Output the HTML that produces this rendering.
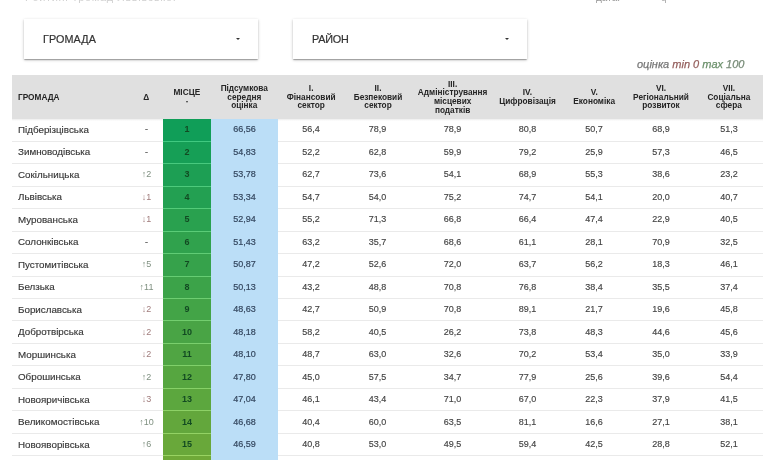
<!DOCTYPE html>
<html><head><meta charset="utf-8"><style>
*{margin:0;padding:0;box-sizing:border-box}
html,body{width:765px;height:460px;overflow:hidden;background:#fff;font-family:"Liberation Sans",sans-serif;color:#333}
.a{position:absolute}
.card{position:absolute;background:#fff;box-shadow:0 1px 3px rgba(0,0,0,.22),0 1px 1px rgba(0,0,0,.16),0 2px 1px -1px rgba(0,0,0,.12)}
.card span{position:absolute;font-size:10.8px;color:#333;letter-spacing:.1px;-webkit-text-stroke:.2px #333}
.card i{position:absolute;width:0;height:0;border-left:2px solid transparent;border-right:2px solid transparent;border-top:2.5px solid #333}
.hdr{position:absolute;left:12px;top:75px;width:751px;height:44px;background:#e0e0e0}
.h{position:absolute;display:flex;align-items:center;justify-content:center;text-align:center}
.h b{display:block;font-size:9.2px;line-height:8.6px;color:#252525;transform:scaleX(.9);white-space:nowrap}
.c{position:absolute;font-size:9px;color:#444;text-align:center;white-space:nowrap;-webkit-text-stroke:.15px #444}
.n{text-align:left;font-size:9.8px;color:#333}
.sep{position:absolute;height:1px;background:#eaeaea}
#w{position:absolute;left:0;top:0;width:765px;height:460px;overflow:hidden;filter:blur(.3px)}
</style></head><body><div id="w">

<div class="a" style="left:25px;top:-9px;font-size:11px;color:#d0d0d0;white-space:nowrap;letter-spacing:.65px">Рейтинг громад Львівської</div>
<div class="a" style="left:596px;top:-8px;font-size:10px;color:#999;white-space:nowrap">дата:</div>
<div class="a" style="left:661px;top:-8px;font-size:10px;color:#aaa;white-space:nowrap">q</div>
<div class="card" style="left:24px;top:19px;width:234px;height:40px"><span style="left:19px;top:13.5px">ГРОМАДА</span><i style="left:212px;top:19px"></i></div>
<div class="card" style="left:293px;top:19px;width:234px;height:40px"><span style="left:19px;top:13.5px;letter-spacing:-.2px">РАЙОН</span><i style="left:212px;top:19px"></i></div>
<div class="a" style="left:637px;top:58px;font-size:11px;font-style:italic;white-space:nowrap;color:#777;-webkit-text-stroke:.25px #777">оцінка <span style="color:#955f5d;-webkit-text-stroke:.25px #955f5d">min 0</span> <span style="color:#6b906b;-webkit-text-stroke:.25px #6b906b">max</span> <span style="color:#768a76;-webkit-text-stroke:.25px #768a76">100</span></div>
<div class="hdr"></div>
<div class="h" style="left:12px;top:75px;width:118px;height:44px;justify-content:flex-start;padding-left:6px"><b style="transform-origin:left center">ГРОМАДА</b></div>
<div class="h" style="left:130px;top:75px;width:33px;height:44px"><b>Δ</b></div>
<div class="h" style="left:163px;top:75px;width:48px;height:44px"><b style="margin-top:-9px">МІСЦЕ</b></div>
<div class="a" style="left:185.5px;top:101px;width:0;height:0;border-left:1.5px solid transparent;border-right:1.5px solid transparent;border-top:2px solid #333"></div>
<div class="h" style="left:211px;top:75px;width:67px;height:44px"><b>Підсумкова<br>середня<br>оцінка</b></div>
<div class="h" style="left:278px;top:75px;width:66px;height:44px"><b>I.<br>Фінансовий<br>сектор</b></div>
<div class="h" style="left:344px;top:75px;width:67px;height:44px"><b>II.<br>Безпековий<br>сектор</b></div>
<div class="h" style="left:411px;top:75px;width:83px;height:44px"><b>III.<br>Адміністрування<br>місцевих<br>податків</b></div>
<div class="h" style="left:494px;top:75px;width:67px;height:44px"><b>IV.<br>Цифровізація</b></div>
<div class="h" style="left:561px;top:75px;width:66px;height:44px"><b>V.<br>Економіка</b></div>
<div class="h" style="left:627px;top:75px;width:68px;height:44px"><b>VI.<br>Регіональний<br>розвиток</b></div>
<div class="h" style="left:695px;top:75px;width:68px;height:44px"><b>VII.<br>Соціальна<br>сфера</b></div>
<div class="a" style="left:12px;top:119px;width:751px;height:2px;background:linear-gradient(#ececec,#fff)"></div>
<div class="a" style="left:211px;top:119px;width:67px;height:341px;background:#bbdef7"></div>
<div class="a" style="left:163px;top:119px;width:48px;height:22px;background:rgb(16, 158, 88)"></div>
<div class="c n" style="left:18px;top:123.70px">Підберізцівська</div>
<div class="c" style="left:130px;top:124.20px;width:33px;color:#888">-</div>
<div class="c" style="left:163px;top:124.20px;width:48px;color:#124a22;font-weight:bold;-webkit-text-stroke:0">1</div>
<div class="c" style="left:211px;top:124.20px;width:67px;color:#34475f;-webkit-text-stroke:.2px #34475f">66,56</div>
<div class="c" style="left:278px;top:124.20px;width:66px;">56,4</div>
<div class="c" style="left:344px;top:124.20px;width:67px;">78,9</div>
<div class="c" style="left:411px;top:124.20px;width:83px;">78,9</div>
<div class="c" style="left:494px;top:124.20px;width:67px;">80,8</div>
<div class="c" style="left:561px;top:124.20px;width:66px;">50,7</div>
<div class="c" style="left:627px;top:124.20px;width:68px;">68,9</div>
<div class="c" style="left:695px;top:124.20px;width:68px;">51,3</div>
<div class="a" style="left:163px;top:141px;width:48px;height:22px;background:rgb(22, 159, 86)"></div>
<div class="sep" style="left:12px;top:141px;width:151px"></div>
<div class="sep" style="left:163px;top:141px;width:48px;background:rgb(64, 201, 128)"></div>
<div class="sep" style="left:278px;top:141px;width:485px"></div>
<div class="c n" style="left:18px;top:146.20px">Зимноводівська</div>
<div class="c" style="left:130px;top:146.70px;width:33px;color:#888">-</div>
<div class="c" style="left:163px;top:146.70px;width:48px;color:#124a22;font-weight:bold;-webkit-text-stroke:0">2</div>
<div class="c" style="left:211px;top:146.70px;width:67px;color:#34475f;-webkit-text-stroke:.2px #34475f">54,83</div>
<div class="c" style="left:278px;top:146.70px;width:66px;">52,2</div>
<div class="c" style="left:344px;top:146.70px;width:67px;">62,8</div>
<div class="c" style="left:411px;top:146.70px;width:83px;">59,9</div>
<div class="c" style="left:494px;top:146.70px;width:67px;">79,2</div>
<div class="c" style="left:561px;top:146.70px;width:66px;">25,9</div>
<div class="c" style="left:627px;top:146.70px;width:68px;">57,3</div>
<div class="c" style="left:695px;top:146.70px;width:68px;">46,5</div>
<div class="a" style="left:163px;top:163px;width:48px;height:23px;background:rgb(29, 159, 84)"></div>
<div class="sep" style="left:12px;top:163px;width:151px"></div>
<div class="sep" style="left:163px;top:163px;width:48px;background:rgb(71, 201, 126)"></div>
<div class="sep" style="left:278px;top:163px;width:485px"></div>
<div class="c n" style="left:18px;top:168.70px">Сокільницька</div>
<div class="c" style="left:130px;top:169.20px;width:33px;color:#7f9080;-webkit-text-stroke:0">↑2</div>
<div class="c" style="left:163px;top:169.20px;width:48px;color:#124a22;font-weight:bold;-webkit-text-stroke:0">3</div>
<div class="c" style="left:211px;top:169.20px;width:67px;color:#34475f;-webkit-text-stroke:.2px #34475f">53,78</div>
<div class="c" style="left:278px;top:169.20px;width:66px;">62,7</div>
<div class="c" style="left:344px;top:169.20px;width:67px;">73,6</div>
<div class="c" style="left:411px;top:169.20px;width:83px;">54,1</div>
<div class="c" style="left:494px;top:169.20px;width:67px;">68,9</div>
<div class="c" style="left:561px;top:169.20px;width:66px;">55,3</div>
<div class="c" style="left:627px;top:169.20px;width:68px;">38,6</div>
<div class="c" style="left:695px;top:169.20px;width:68px;">23,2</div>
<div class="a" style="left:163px;top:186px;width:48px;height:22px;background:rgb(35, 160, 82)"></div>
<div class="sep" style="left:12px;top:186px;width:151px"></div>
<div class="sep" style="left:163px;top:186px;width:48px;background:rgb(77, 202, 124)"></div>
<div class="sep" style="left:278px;top:186px;width:485px"></div>
<div class="c n" style="left:18px;top:191.20px">Львівська</div>
<div class="c" style="left:130px;top:191.70px;width:33px;color:#a07c7c;-webkit-text-stroke:0">↓1</div>
<div class="c" style="left:163px;top:191.70px;width:48px;color:#124a22;font-weight:bold;-webkit-text-stroke:0">4</div>
<div class="c" style="left:211px;top:191.70px;width:67px;color:#34475f;-webkit-text-stroke:.2px #34475f">53,34</div>
<div class="c" style="left:278px;top:191.70px;width:66px;">54,7</div>
<div class="c" style="left:344px;top:191.70px;width:67px;">54,0</div>
<div class="c" style="left:411px;top:191.70px;width:83px;">75,2</div>
<div class="c" style="left:494px;top:191.70px;width:67px;">74,7</div>
<div class="c" style="left:561px;top:191.70px;width:66px;">54,1</div>
<div class="c" style="left:627px;top:191.70px;width:68px;">20,0</div>
<div class="c" style="left:695px;top:191.70px;width:68px;">40,7</div>
<div class="a" style="left:163px;top:208px;width:48px;height:23px;background:rgb(41, 161, 79)"></div>
<div class="sep" style="left:12px;top:208px;width:151px"></div>
<div class="sep" style="left:163px;top:208px;width:48px;background:rgb(83, 203, 121)"></div>
<div class="sep" style="left:278px;top:208px;width:485px"></div>
<div class="c n" style="left:18px;top:213.70px">Мурованська</div>
<div class="c" style="left:130px;top:214.20px;width:33px;color:#a07c7c;-webkit-text-stroke:0">↓1</div>
<div class="c" style="left:163px;top:214.20px;width:48px;color:#124a22;font-weight:bold;-webkit-text-stroke:0">5</div>
<div class="c" style="left:211px;top:214.20px;width:67px;color:#34475f;-webkit-text-stroke:.2px #34475f">52,94</div>
<div class="c" style="left:278px;top:214.20px;width:66px;">55,2</div>
<div class="c" style="left:344px;top:214.20px;width:67px;">71,3</div>
<div class="c" style="left:411px;top:214.20px;width:83px;">66,8</div>
<div class="c" style="left:494px;top:214.20px;width:67px;">66,4</div>
<div class="c" style="left:561px;top:214.20px;width:66px;">47,4</div>
<div class="c" style="left:627px;top:214.20px;width:68px;">22,9</div>
<div class="c" style="left:695px;top:214.20px;width:68px;">40,5</div>
<div class="a" style="left:163px;top:231px;width:48px;height:22px;background:rgb(48, 162, 77)"></div>
<div class="sep" style="left:12px;top:231px;width:151px"></div>
<div class="sep" style="left:163px;top:231px;width:48px;background:rgb(90, 204, 119)"></div>
<div class="sep" style="left:278px;top:231px;width:485px"></div>
<div class="c n" style="left:18px;top:236.20px">Солонківська</div>
<div class="c" style="left:130px;top:236.70px;width:33px;color:#888">-</div>
<div class="c" style="left:163px;top:236.70px;width:48px;color:#124a22;font-weight:bold;-webkit-text-stroke:0">6</div>
<div class="c" style="left:211px;top:236.70px;width:67px;color:#34475f;-webkit-text-stroke:.2px #34475f">51,43</div>
<div class="c" style="left:278px;top:236.70px;width:66px;">63,2</div>
<div class="c" style="left:344px;top:236.70px;width:67px;">35,7</div>
<div class="c" style="left:411px;top:236.70px;width:83px;">68,6</div>
<div class="c" style="left:494px;top:236.70px;width:67px;">61,1</div>
<div class="c" style="left:561px;top:236.70px;width:66px;">28,1</div>
<div class="c" style="left:627px;top:236.70px;width:68px;">70,9</div>
<div class="c" style="left:695px;top:236.70px;width:68px;">32,5</div>
<div class="a" style="left:163px;top:253px;width:48px;height:23px;background:rgb(54, 162, 75)"></div>
<div class="sep" style="left:12px;top:253px;width:151px"></div>
<div class="sep" style="left:163px;top:253px;width:48px;background:rgb(96, 204, 117)"></div>
<div class="sep" style="left:278px;top:253px;width:485px"></div>
<div class="c n" style="left:18px;top:258.70px">Пустомитівська</div>
<div class="c" style="left:130px;top:259.20px;width:33px;color:#7f9080;-webkit-text-stroke:0">↑5</div>
<div class="c" style="left:163px;top:259.20px;width:48px;color:#124a22;font-weight:bold;-webkit-text-stroke:0">7</div>
<div class="c" style="left:211px;top:259.20px;width:67px;color:#34475f;-webkit-text-stroke:.2px #34475f">50,87</div>
<div class="c" style="left:278px;top:259.20px;width:66px;">47,2</div>
<div class="c" style="left:344px;top:259.20px;width:67px;">52,6</div>
<div class="c" style="left:411px;top:259.20px;width:83px;">72,0</div>
<div class="c" style="left:494px;top:259.20px;width:67px;">63,7</div>
<div class="c" style="left:561px;top:259.20px;width:66px;">56,2</div>
<div class="c" style="left:627px;top:259.20px;width:68px;">18,3</div>
<div class="c" style="left:695px;top:259.20px;width:68px;">46,1</div>
<div class="a" style="left:163px;top:276px;width:48px;height:22px;background:rgb(60, 163, 73)"></div>
<div class="sep" style="left:12px;top:276px;width:151px"></div>
<div class="sep" style="left:163px;top:276px;width:48px;background:rgb(102, 205, 115)"></div>
<div class="sep" style="left:278px;top:276px;width:485px"></div>
<div class="c n" style="left:18px;top:281.20px">Белзька</div>
<div class="c" style="left:130px;top:281.70px;width:33px;color:#7f9080;-webkit-text-stroke:0">↑11</div>
<div class="c" style="left:163px;top:281.70px;width:48px;color:#124a22;font-weight:bold;-webkit-text-stroke:0">8</div>
<div class="c" style="left:211px;top:281.70px;width:67px;color:#34475f;-webkit-text-stroke:.2px #34475f">50,13</div>
<div class="c" style="left:278px;top:281.70px;width:66px;">43,2</div>
<div class="c" style="left:344px;top:281.70px;width:67px;">48,8</div>
<div class="c" style="left:411px;top:281.70px;width:83px;">70,8</div>
<div class="c" style="left:494px;top:281.70px;width:67px;">76,8</div>
<div class="c" style="left:561px;top:281.70px;width:66px;">38,4</div>
<div class="c" style="left:627px;top:281.70px;width:68px;">35,5</div>
<div class="c" style="left:695px;top:281.70px;width:68px;">37,4</div>
<div class="a" style="left:163px;top:298px;width:48px;height:22px;background:rgb(67, 164, 71)"></div>
<div class="sep" style="left:12px;top:298px;width:151px"></div>
<div class="sep" style="left:163px;top:298px;width:48px;background:rgb(109, 206, 113)"></div>
<div class="sep" style="left:278px;top:298px;width:485px"></div>
<div class="c n" style="left:18px;top:303.70px">Бориславська</div>
<div class="c" style="left:130px;top:304.20px;width:33px;color:#a07c7c;-webkit-text-stroke:0">↓2</div>
<div class="c" style="left:163px;top:304.20px;width:48px;color:#124a22;font-weight:bold;-webkit-text-stroke:0">9</div>
<div class="c" style="left:211px;top:304.20px;width:67px;color:#34475f;-webkit-text-stroke:.2px #34475f">48,63</div>
<div class="c" style="left:278px;top:304.20px;width:66px;">42,7</div>
<div class="c" style="left:344px;top:304.20px;width:67px;">50,9</div>
<div class="c" style="left:411px;top:304.20px;width:83px;">70,8</div>
<div class="c" style="left:494px;top:304.20px;width:67px;">89,1</div>
<div class="c" style="left:561px;top:304.20px;width:66px;">21,7</div>
<div class="c" style="left:627px;top:304.20px;width:68px;">19,6</div>
<div class="c" style="left:695px;top:304.20px;width:68px;">45,8</div>
<div class="a" style="left:163px;top:320px;width:48px;height:23px;background:rgb(73, 164, 69)"></div>
<div class="sep" style="left:12px;top:320px;width:151px"></div>
<div class="sep" style="left:163px;top:320px;width:48px;background:rgb(115, 206, 111)"></div>
<div class="sep" style="left:278px;top:320px;width:485px"></div>
<div class="c n" style="left:18px;top:326.20px">Добротвірська</div>
<div class="c" style="left:130px;top:326.70px;width:33px;color:#a07c7c;-webkit-text-stroke:0">↓2</div>
<div class="c" style="left:163px;top:326.70px;width:48px;color:#124a22;font-weight:bold;-webkit-text-stroke:0">10</div>
<div class="c" style="left:211px;top:326.70px;width:67px;color:#34475f;-webkit-text-stroke:.2px #34475f">48,18</div>
<div class="c" style="left:278px;top:326.70px;width:66px;">58,2</div>
<div class="c" style="left:344px;top:326.70px;width:67px;">40,5</div>
<div class="c" style="left:411px;top:326.70px;width:83px;">26,2</div>
<div class="c" style="left:494px;top:326.70px;width:67px;">73,8</div>
<div class="c" style="left:561px;top:326.70px;width:66px;">48,3</div>
<div class="c" style="left:627px;top:326.70px;width:68px;">44,6</div>
<div class="c" style="left:695px;top:326.70px;width:68px;">45,6</div>
<div class="a" style="left:163px;top:343px;width:48px;height:22px;background:rgb(80, 165, 67)"></div>
<div class="sep" style="left:12px;top:343px;width:151px"></div>
<div class="sep" style="left:163px;top:343px;width:48px;background:rgb(122, 207, 109)"></div>
<div class="sep" style="left:278px;top:343px;width:485px"></div>
<div class="c n" style="left:18px;top:348.70px">Моршинська</div>
<div class="c" style="left:130px;top:349.20px;width:33px;color:#a07c7c;-webkit-text-stroke:0">↓2</div>
<div class="c" style="left:163px;top:349.20px;width:48px;color:#124a22;font-weight:bold;-webkit-text-stroke:0">11</div>
<div class="c" style="left:211px;top:349.20px;width:67px;color:#34475f;-webkit-text-stroke:.2px #34475f">48,10</div>
<div class="c" style="left:278px;top:349.20px;width:66px;">48,7</div>
<div class="c" style="left:344px;top:349.20px;width:67px;">63,0</div>
<div class="c" style="left:411px;top:349.20px;width:83px;">32,6</div>
<div class="c" style="left:494px;top:349.20px;width:67px;">70,2</div>
<div class="c" style="left:561px;top:349.20px;width:66px;">53,4</div>
<div class="c" style="left:627px;top:349.20px;width:68px;">35,0</div>
<div class="c" style="left:695px;top:349.20px;width:68px;">33,9</div>
<div class="a" style="left:163px;top:365px;width:48px;height:23px;background:rgb(86, 166, 64)"></div>
<div class="sep" style="left:12px;top:365px;width:151px"></div>
<div class="sep" style="left:163px;top:365px;width:48px;background:rgb(128, 208, 106)"></div>
<div class="sep" style="left:278px;top:365px;width:485px"></div>
<div class="c n" style="left:18px;top:371.20px">Оброшинська</div>
<div class="c" style="left:130px;top:371.70px;width:33px;color:#7f9080;-webkit-text-stroke:0">↑2</div>
<div class="c" style="left:163px;top:371.70px;width:48px;color:#124a22;font-weight:bold;-webkit-text-stroke:0">12</div>
<div class="c" style="left:211px;top:371.70px;width:67px;color:#34475f;-webkit-text-stroke:.2px #34475f">47,80</div>
<div class="c" style="left:278px;top:371.70px;width:66px;">45,0</div>
<div class="c" style="left:344px;top:371.70px;width:67px;">57,5</div>
<div class="c" style="left:411px;top:371.70px;width:83px;">34,7</div>
<div class="c" style="left:494px;top:371.70px;width:67px;">77,9</div>
<div class="c" style="left:561px;top:371.70px;width:66px;">25,6</div>
<div class="c" style="left:627px;top:371.70px;width:68px;">39,6</div>
<div class="c" style="left:695px;top:371.70px;width:68px;">54,4</div>
<div class="a" style="left:163px;top:388px;width:48px;height:22px;background:rgb(92, 167, 62)"></div>
<div class="sep" style="left:12px;top:388px;width:151px"></div>
<div class="sep" style="left:163px;top:388px;width:48px;background:rgb(134, 209, 104)"></div>
<div class="sep" style="left:278px;top:388px;width:485px"></div>
<div class="c n" style="left:18px;top:393.70px">Новояричівська</div>
<div class="c" style="left:130px;top:394.20px;width:33px;color:#a07c7c;-webkit-text-stroke:0">↓3</div>
<div class="c" style="left:163px;top:394.20px;width:48px;color:#124a22;font-weight:bold;-webkit-text-stroke:0">13</div>
<div class="c" style="left:211px;top:394.20px;width:67px;color:#34475f;-webkit-text-stroke:.2px #34475f">47,04</div>
<div class="c" style="left:278px;top:394.20px;width:66px;">46,1</div>
<div class="c" style="left:344px;top:394.20px;width:67px;">43,4</div>
<div class="c" style="left:411px;top:394.20px;width:83px;">71,0</div>
<div class="c" style="left:494px;top:394.20px;width:67px;">67,0</div>
<div class="c" style="left:561px;top:394.20px;width:66px;">22,3</div>
<div class="c" style="left:627px;top:394.20px;width:68px;">37,9</div>
<div class="c" style="left:695px;top:394.20px;width:68px;">41,5</div>
<div class="a" style="left:163px;top:410px;width:48px;height:23px;background:rgb(99, 167, 60)"></div>
<div class="sep" style="left:12px;top:410px;width:151px"></div>
<div class="sep" style="left:163px;top:410px;width:48px;background:rgb(141, 209, 102)"></div>
<div class="sep" style="left:278px;top:410px;width:485px"></div>
<div class="c n" style="left:18px;top:416.20px">Великомостівська</div>
<div class="c" style="left:130px;top:416.70px;width:33px;color:#7f9080;-webkit-text-stroke:0">↑10</div>
<div class="c" style="left:163px;top:416.70px;width:48px;color:#124a22;font-weight:bold;-webkit-text-stroke:0">14</div>
<div class="c" style="left:211px;top:416.70px;width:67px;color:#34475f;-webkit-text-stroke:.2px #34475f">46,68</div>
<div class="c" style="left:278px;top:416.70px;width:66px;">40,4</div>
<div class="c" style="left:344px;top:416.70px;width:67px;">60,0</div>
<div class="c" style="left:411px;top:416.70px;width:83px;">63,5</div>
<div class="c" style="left:494px;top:416.70px;width:67px;">81,1</div>
<div class="c" style="left:561px;top:416.70px;width:66px;">16,6</div>
<div class="c" style="left:627px;top:416.70px;width:68px;">27,1</div>
<div class="c" style="left:695px;top:416.70px;width:68px;">38,1</div>
<div class="a" style="left:163px;top:433px;width:48px;height:22px;background:rgb(105, 168, 58)"></div>
<div class="sep" style="left:12px;top:433px;width:151px"></div>
<div class="sep" style="left:163px;top:433px;width:48px;background:rgb(147, 210, 100)"></div>
<div class="sep" style="left:278px;top:433px;width:485px"></div>
<div class="c n" style="left:18px;top:438.70px">Новояворівська</div>
<div class="c" style="left:130px;top:439.20px;width:33px;color:#7f9080;-webkit-text-stroke:0">↑6</div>
<div class="c" style="left:163px;top:439.20px;width:48px;color:#124a22;font-weight:bold;-webkit-text-stroke:0">15</div>
<div class="c" style="left:211px;top:439.20px;width:67px;color:#34475f;-webkit-text-stroke:.2px #34475f">46,59</div>
<div class="c" style="left:278px;top:439.20px;width:66px;">40,8</div>
<div class="c" style="left:344px;top:439.20px;width:67px;">53,0</div>
<div class="c" style="left:411px;top:439.20px;width:83px;">49,5</div>
<div class="c" style="left:494px;top:439.20px;width:67px;">59,4</div>
<div class="c" style="left:561px;top:439.20px;width:66px;">42,5</div>
<div class="c" style="left:627px;top:439.20px;width:68px;">28,8</div>
<div class="c" style="left:695px;top:439.20px;width:68px;">52,1</div>
<div class="a" style="left:163px;top:455px;width:48px;height:22px;background:rgb(111, 169, 56)"></div>
<div class="sep" style="left:12px;top:455px;width:151px"></div>
<div class="sep" style="left:163px;top:455px;width:48px;background:rgb(153, 211, 98)"></div>
<div class="sep" style="left:278px;top:455px;width:485px"></div>
<div class="c n" style="left:18px;top:461.20px">Жовківська</div>
<div class="c" style="left:130px;top:461.70px;width:33px;color:#a07c7c;-webkit-text-stroke:0">↓4</div>
<div class="c" style="left:163px;top:461.70px;width:48px;color:#124a22;font-weight:bold;-webkit-text-stroke:0">16</div>
<div class="c" style="left:211px;top:461.70px;width:67px;color:#34475f;-webkit-text-stroke:.2px #34475f">46,50</div>
<div class="c" style="left:278px;top:461.70px;width:66px;">50,1</div>
<div class="c" style="left:344px;top:461.70px;width:67px;">44,0</div>
<div class="c" style="left:411px;top:461.70px;width:83px;">60,2</div>
<div class="c" style="left:494px;top:461.70px;width:67px;">70,3</div>
<div class="c" style="left:561px;top:461.70px;width:66px;">30,1</div>
<div class="c" style="left:627px;top:461.70px;width:68px;">25,5</div>
<div class="c" style="left:695px;top:461.70px;width:68px;">45,2</div>
</div></body></html>
